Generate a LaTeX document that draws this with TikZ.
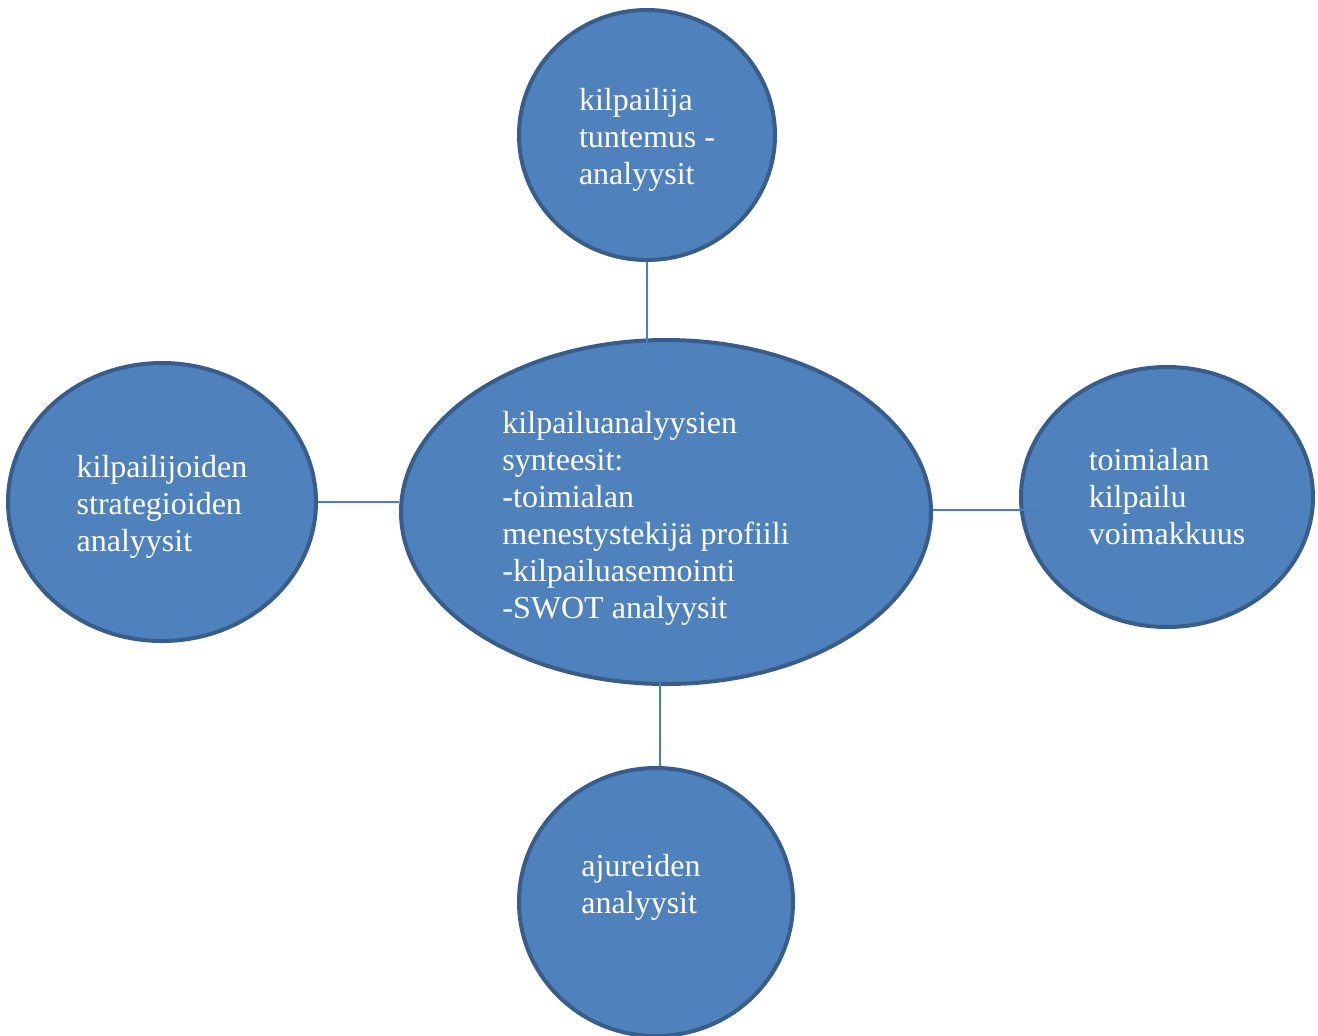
\documentclass[tikz,border=0pt]{standalone}
\usepackage{fontspec}
\setmainfont{Liberation Serif}
\usetikzlibrary{shapes.geometric,positioning}
\definecolor{BubbleFill}{HTML}{4F81BD}
\definecolor{BubbleEdge}{HTML}{385D8A}
\definecolor{LinkBlue}{HTML}{4A7EBB}

\begin{document}
\begin{tikzpicture}[x=0.5pt,y=-0.5pt,
    bubble/.style={ellipse,draw=BubbleEdge,fill=BubbleFill,line width=2pt,inner sep=0pt,
      text=white,align=left,font=\fontsize{16}{18.5}\selectfont},
    link/.style={draw=LinkBlue,line width=1pt}]
      \useasboundingbox (0,0) rectangle (1318,1035);

      \node[bubble,minimum width=265pt,minimum height=172pt] (synth) at (666,512)
        {\rule{0pt}{17pt}kilpailuanalyysien\\synteesit:\\-toimialan\\menestystekijä profiili\rule{20pt}{0pt}\\-kilpailuasemointi\\-SWOT analyysit};
      \node[bubble,minimum width=128pt,minimum height=125pt] (rivals) at (647,135)
        {\rule{0pt}{16pt}kilpailija\\tuntemus -\\analyysit};
      \node[bubble,minimum width=154pt,minimum height=139pt] (strat) at (162,502)
        {\rule{0pt}{16pt}kilpailijoiden\\strategioiden\\analyysit};
      \node[bubble,minimum width=146pt,minimum height=130pt] (industry) at (1167,497)
        {toimialan\\kilpailu\\voimakkuus};
      \node[bubble,minimum width=137pt,minimum height=134pt] (drivers) at (656,902)
        {ajureiden\rule{15pt}{0pt}\\analyysit\rule[-18.5pt]{0pt}{1pt}};

      \coordinate (industryend) at (1040,510);

      \draw[link] (rivals.south) -- ++(0,84);
      \draw[link] (strat.east) -- (strat.east -| synth.west);
      \draw[link] (synth.east) ++(0,-2) -- (industryend);
      \draw[link] (drivers.north) ++(4,0) -- ++(0,-84);
    \end{tikzpicture}
\end{document}
